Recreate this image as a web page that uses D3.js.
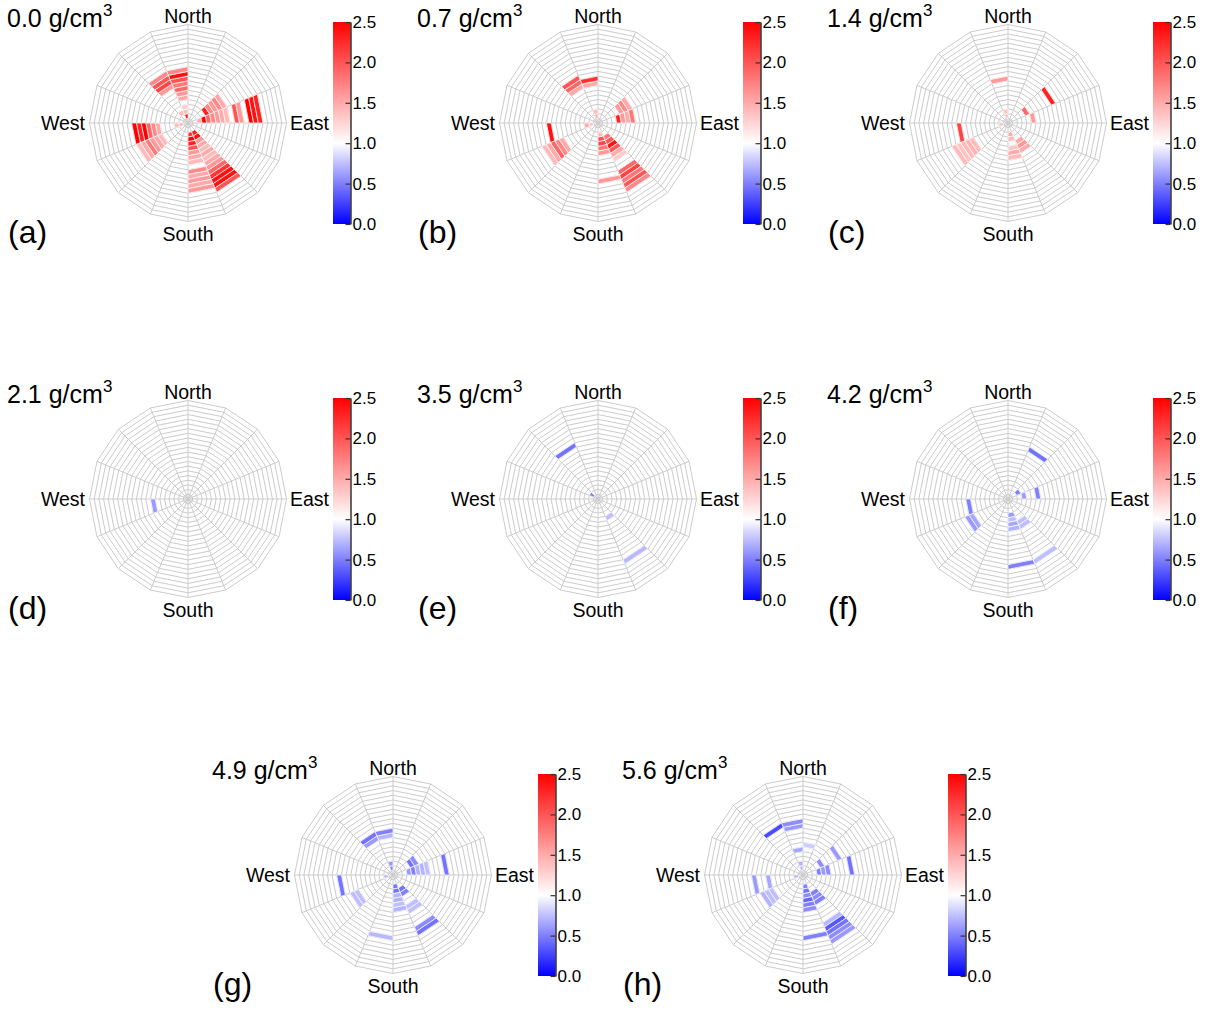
<!DOCTYPE html>
<html>
<head>
<meta charset="utf-8">
<script src="https://cdn.jsdelivr.net/npm/d3@7"></script>
<style>
html,body{margin:0;padding:0;background:#fff;}
svg{display:block;font-family:"Liberation Sans",Arial,Helvetica,sans-serif;}
</style>
</head>
<body>
<svg id="chart" width="1211" height="1011"></svg>
<script>
// ---------- data ----------
const densities = ["0.0", "0.7", "1.4", "2.1", "3.5", "4.2", "4.9", "5.6"];
const panelLetters = ["(a)", "(b)", "(c)", "(d)", "(e)", "(f)", "(g)", "(h)"];
const directions = ["North", "East", "South", "West"];
const cbTicks = [0.0, 0.5, 1.0, 1.5, 2.0, 2.5];
const cbStops = [0.0, 1.0, 2.5];
const cbColors = ["#0000ff", "#ffffff", "#ff0000"];
const nSectors = 16;   // 22.5 degree direction bins, clockwise from North
const nRings = 21;     // radial bins

// cells: [sectorIndex, ringIndex, value]
const cellsA = [
  [15,1,2.4],[15,2,1.4],[15,3,1.3],[14,2,1.4],[11,1,1.5],[11,2,1.4],
  [15,5,1.5],[15,6,1.6],[15,7,1.9],[15,8,1.8],[15,9,2.0],[15,10,2.4],[15,11,1.7],
  [14,8,1.6],[14,9,2.1],[14,10,2.0],[14,11,1.7],
  [3,2,1.5],[3,3,2.5],[3,4,1.9],[3,5,1.7],[3,6,1.6],[3,7,1.5],[3,8,1.4],
  [3,10,2.0],[3,11,1.6],[3,13,2.5],[3,14,2.4],[3,15,2.3],
  [2,4,2.3],[2,5,1.7],[2,6,1.6],[2,7,1.7],[2,8,1.5],
  [11,6,1.5],[11,7,1.7],[11,8,1.9],[11,9,2.5],[11,10,2.3],[11,11,2.5],
  [10,6,1.4],[10,7,1.5],[10,8,1.6],[10,9,1.8],[10,10,1.5],[10,11,1.4],
  [7,2,2.2],[7,3,2.5],[7,4,2.3],[7,5,2.0],[7,6,1.6],[7,7,1.5],[7,8,1.4],
  [7,10,1.7],[7,11,1.5],[7,12,1.6],[7,13,1.5],[7,14,1.6],
  [6,2,2.3],[6,3,2.4],[6,4,1.6],[6,5,1.5],[6,6,1.4],[6,7,1.5],[6,8,1.4],[6,9,1.5],
  [6,10,1.6],[6,11,1.9],[6,12,2.2],[6,13,2.4],[6,14,2.4],[6,15,2.0]
];
const cellsB = [
  [15,1,1.5],[15,2,1.4],[11,1,1.4],[11,2,1.5],
  [15,8,1.5],[15,9,2.2],[14,8,1.5],[14,9,1.9],[14,10,2.0],
  [3,4,2.3],[3,5,1.6],[3,6,1.5],[3,7,1.8],[2,5,1.6],[2,6,1.7],[2,7,1.5],
  [11,10,2.4],
  [10,8,1.5],[10,9,1.7],[10,10,1.9],[10,11,1.5],[10,12,1.4],
  [7,2,1.4],[7,3,2.0],[7,4,2.1],[7,5,1.8],[7,6,1.6],[7,12,1.6],
  [6,3,1.8],[6,4,2.0],[6,5,2.4],[6,6,2.0],[6,7,1.5],[6,8,1.3],
  [6,11,1.9],[6,12,2.1],[6,13,1.8],[6,14,2.0],[6,15,1.7]
];
const cellsC = [
  [15,1,1.4],[15,2,1.35],[11,1,1.4],
  [15,9,1.6],[2,10,2.3],[2,4,1.9],[3,5,1.6],
  [11,10,2.1],
  [10,8,1.4],[10,9,1.45],[10,10,1.4],[10,11,1.35],[10,12,1.4],
  [7,2,1.5],[7,3,1.4],[7,5,1.35],[7,6,1.5],[7,7,1.4],
  [6,4,1.5],[6,5,1.6],[6,6,1.5]
];
const cellsD = [
  [11,7,0.6]
];
const cellsE = [
  [14,12,0.45],[6,4,0.75],[6,14,0.72],[13,1,0.5]
];
const cellsF = [
  [1,11,0.45],[2,2,0.5],[3,3,0.6],[3,6,0.5],
  [11,8,0.5],[10,8,0.65],[10,9,0.6],
  [7,3,0.6],[7,4,0.75],[7,5,0.65],[7,6,0.7],[7,14,0.5],
  [6,5,0.75],[6,6,0.75],[6,14,0.75]
];
const cellsG = [
  [15,8,0.7],[15,9,0.5],[14,8,0.6],[14,9,0.45],[15,1,0.5],[15,2,0.6],
  [2,4,0.45],[2,5,0.55],[3,3,0.6],[3,4,0.5],[3,5,0.7],[3,6,0.7],[3,7,0.75],[3,11,0.45],
  [11,11,0.45],[11,1,0.7],[10,8,0.75],[10,9,0.75],
  [7,2,0.45],[7,3,0.45],[7,4,0.7],[7,5,0.7],[7,6,0.75],[7,7,0.7],[8,13,0.72],
  [6,3,0.45],[6,4,0.5],[6,7,0.75],[6,8,0.75],[6,12,0.55],[6,13,0.45]
];
const cellsH = [
  [15,10,0.6],[15,11,0.55],[15,5,0.65],[15,1,0.7],[15,2,0.7],[14,11,0.3],
  [0,6,0.8],[2,8,0.6],[2,4,0.55],[3,10,0.45],[3,3,0.5],[3,4,0.6],[3,5,0.55],
  [11,10,0.6],[11,7,0.65],[11,1,0.7],[10,7,0.75],[10,8,0.75],[10,9,0.7],
  [7,2,0.5],[7,3,0.45],[7,4,0.55],[7,5,0.4],[7,6,0.5],[7,7,0.55],[7,13,0.5],
  [6,4,0.5],[6,5,0.55],[6,6,0.5],[6,11,0.72],[6,12,0.35],[6,13,0.45],[6,14,0.55],[6,15,0.6]
];
const panelCells = [cellsA, cellsB, cellsC, cellsD, cellsE, cellsF, cellsG, cellsH];

// ---------- layout ----------
const R = 98.5;
const svg = d3.select("#chart");
const color = d3.scaleLinear().domain(cbStops).range(cbColors).interpolate(d3.interpolateRgb);
const rScale = d3.scaleLinear().domain([0, nRings]).range([0, R]);
const aScale = d3.scaleLinear().domain([0, nSectors]).range([0, 2 * Math.PI]);
const pt = (k, s) => [rScale(k) * Math.sin(aScale(s)), -rScale(k) * Math.cos(aScale(s))];

function centerOf(i) {
  if (i < 6) return [188 + 410 * (i % 3), 123 + 376 * Math.floor(i / 3)];
  return [393 + 410 * (i - 6), 875];
}

// gradient for colorbar
const defs = svg.append("defs");
const grad = defs.append("linearGradient").attr("id", "cbgrad")
  .attr("x1", 0).attr("y1", 1).attr("x2", 0).attr("y2", 0);
cbStops.forEach((v, i) => {
  grad.append("stop").attr("offset", (v / 2.5 * 100) + "%").attr("stop-color", cbColors[i]);
});

densities.forEach((dens, i) => {
  const [cx, cy] = centerOf(i);
  const g = svg.append("g").attr("transform", `translate(${cx},${cy})`);

  // grid rings (16-gon)
  const ringIdx = d3.range(1, nRings + 1);
  g.append("g").selectAll("polygon").data(ringIdx).join("polygon")
    .attr("points", k => d3.range(nSectors).map(s => pt(k, s).join(",")).join(" "))
    .attr("fill", "none").attr("stroke", "#cccccc").attr("stroke-width", 1);
  // spokes
  g.append("g").selectAll("line").data(d3.range(nSectors)).join("line")
    .attr("x1", 0).attr("y1", 0)
    .attr("x2", s => pt(nRings, s)[0]).attr("y2", s => pt(nRings, s)[1])
    .attr("stroke", "#cccccc").attr("stroke-width", 1);

  // cells
  g.append("g").selectAll("polygon").data(panelCells[i]).join("polygon")
    .attr("points", d => [pt(d[1], d[0]), pt(d[1], d[0] + 1), pt(d[1] + 1, d[0] + 1), pt(d[1] + 1, d[0])]
      .map(p => p.join(",")).join(" "))
    .attr("fill", d => color(d[2]))
    .attr("stroke", "#ffffff").attr("stroke-width", 0.7);

  // direction labels
  const fs = 19.5;
  g.append("text").attr("x", 0).attr("y", -100).attr("text-anchor", "middle")
    .attr("font-size", fs).text(directions[0]);
  g.append("text").attr("x", 102).attr("y", 7).attr("text-anchor", "start")
    .attr("font-size", fs).text(directions[1]);
  g.append("text").attr("x", 0).attr("y", 118).attr("text-anchor", "middle")
    .attr("font-size", fs).text(directions[2]);
  g.append("text").attr("x", -103).attr("y", 7).attr("text-anchor", "end")
    .attr("font-size", fs).text(directions[3]);

  // title
  const t = g.append("text").attr("x", -181).attr("y", -96).attr("font-size", 25);
  t.append("tspan").text(dens + " g/cm");
  t.append("tspan").attr("dy", -11).attr("font-size", 17).text("3");

  // panel letter
  g.append("text").attr("x", -180).attr("y", 120).attr("font-size", 32).text(panelLetters[i]);

  // colorbar
  const cbX = 145, cbW = 17.5, cbTop = -101, cbBot = 101;
  const yCb = d3.scaleLinear().domain([0, 2.5]).range([cbBot, cbTop]);
  g.append("rect").attr("x", cbX).attr("y", cbTop).attr("width", cbW).attr("height", cbBot - cbTop)
    .attr("fill", "url(#cbgrad)");
  const ax = g.append("g").attr("transform", `translate(${cbX + cbW},0)`)
    .call(d3.axisRight(yCb).tickValues(cbTicks).tickFormat(d3.format(".1f"))
      .tickSizeInner(-5).tickSizeOuter(0).tickPadding(2));
  ax.select(".domain").attr("stroke", "#000").attr("stroke-width", 1.2);
  ax.selectAll(".tick line").attr("stroke", "#333").attr("stroke-width", 1.2);
  ax.selectAll(".tick text").attr("font-size", 17).attr("fill", "#000")
    .attr("font-family", "Liberation Sans, Arial, sans-serif");
});
</script>
</body>
</html>
